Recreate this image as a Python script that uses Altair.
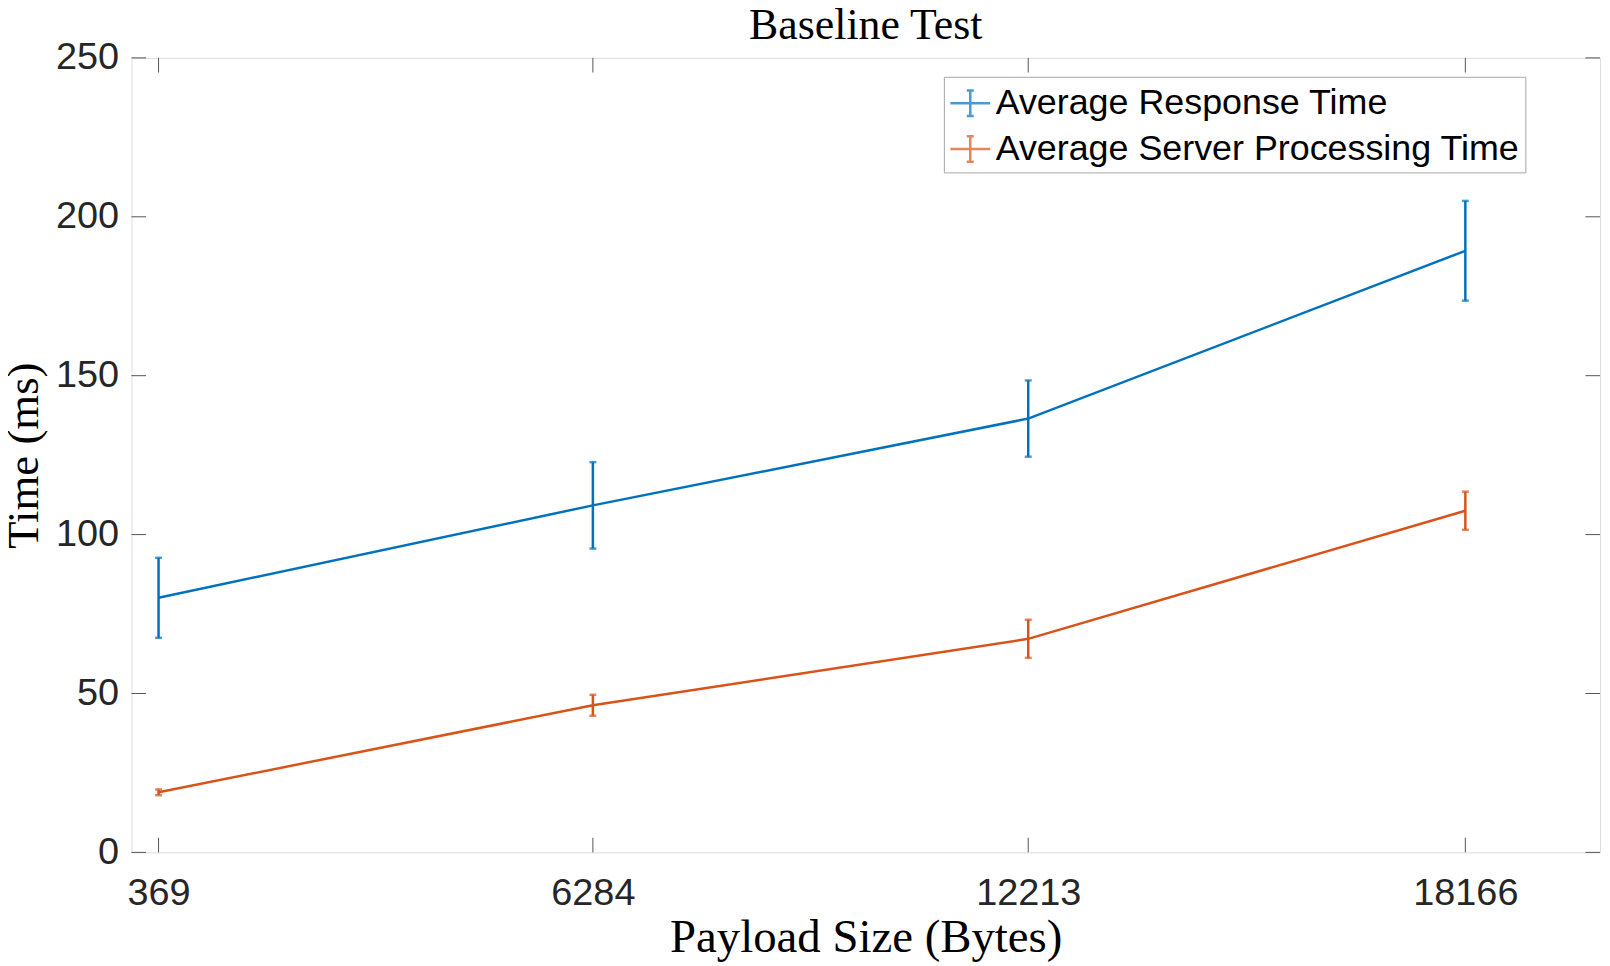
import altair as alt
import pandas as pd

# ---- data ----
sizes = [369, 6284, 12213, 18166]
series = ["Average Response Time", "Average Server Processing Time"]
colors = ["#0072BD", "#D95319"]
resp_mean = [80.1, 109.2, 136.5, 189.3]
resp_err = [12.6, 13.6, 12.0, 15.7]
proc_mean = [18.9, 46.3, 67.2, 107.5]
proc_err = [0.9, 3.3, 6.0, 6.0]
y_ticks = [0, 50, 100, 150, 200, 250]
x_domain = [0, 20000]
y_domain = [0, 250]

W, H = 1475, 798
TICK = 14.7

rows = []
for name, col, means, errs in [
    (series[0], colors[0], resp_mean, resp_err),
    (series[1], colors[1], proc_mean, proc_err),
]:
    for s, m, e in zip(sizes, means, errs):
        rows.append({"series": name, "col": col, "size": s, "mean": m,
                     "lo": m - e, "hi": m + e})
df = pd.DataFrame(rows)
yt = pd.DataFrame({"v": y_ticks})
xt = pd.DataFrame({"s": sizes})

xscale = alt.Scale(domain=x_domain, nice=False, zero=False)
yscale = alt.Scale(domain=y_domain, nice=False)

legend_path = ("M-1,0L1,0M0,-0.64L0,0.64M-0.175,-0.64L0.175,-0.64"
               "M-0.175,0.64L0.175,0.64")

x_axis = alt.Axis(
    values=sizes, format="d", title="Payload Size (Bytes)",
    labelFont="Liberation Sans", labelFontSize=38, labelColor="#262626",
    labelPadding=52, labelBaseline="alphabetic", labelFlush=False,
    ticks=False, domain=False, grid=False,
    titleFont="Liberation Serif", titleFontSize=47, titleFontWeight="normal",
    titleColor="#000000", titleBaseline="alphabetic", titleY=100,
)
y_axis = alt.Axis(
    values=y_ticks, title="Time (ms)",
    labelFont="Liberation Sans", labelFontSize=38, labelColor="#262626",
    labelPadding=13, ticks=False, domain=False, grid=False,
    titleFont="Liberation Serif", titleFontSize=45, titleFontWeight="normal",
    titleColor="#000000", titleBaseline="alphabetic", titleX=-94, titleAngle=270,
)

base = alt.Chart(df)

lines = base.mark_line(strokeWidth=2.5).encode(
    x=alt.X("size:Q", scale=xscale, axis=x_axis),
    y=alt.Y("mean:Q", scale=yscale, axis=y_axis),
    color=alt.Color(
        "series:N",
        scale=alt.Scale(domain=series, range=colors),
        legend=alt.Legend(
            title=None, orient="none", legendX=816, legendY=19,
            symbolType=legend_path, symbolSize=1600, symbolStrokeWidth=2.5,
            labelFont="Liberation Sans", labelFontSize=36, labelColor="#000000",
            labelLimit=1000, labelOffset=4, padding=5, rowPadding=6,
            strokeColor="#a6a6a6", fillColor="#ffffff",
        ),
    ),
)

err = base.mark_rule(strokeWidth=2.5).encode(
    x=alt.X("size:Q", scale=xscale, axis=x_axis),
    y=alt.Y("lo:Q", scale=yscale, axis=y_axis),
    y2="hi:Q",
    color=alt.Color("col:N", scale=None),
)
cap_lo = base.mark_tick(orient="horizontal", size=7, thickness=2.5).encode(
    x=alt.X("size:Q", scale=xscale, axis=x_axis),
    y=alt.Y("lo:Q", scale=yscale, axis=y_axis),
    color=alt.Color("col:N", scale=None),
)
cap_hi = base.mark_tick(orient="horizontal", size=7, thickness=2.5).encode(
    x=alt.X("size:Q", scale=xscale, axis=x_axis),
    y=alt.Y("hi:Q", scale=yscale, axis=y_axis),
    color=alt.Color("col:N", scale=None),
)

tick_color = "#555555"
ytick_l = alt.Chart(yt).mark_rule(color=tick_color, strokeWidth=1).encode(
    y=alt.Y("v:Q", scale=yscale, axis=y_axis), x=alt.value(0), x2=alt.value(TICK))
ytick_r = alt.Chart(yt).mark_rule(color=tick_color, strokeWidth=1).encode(
    y=alt.Y("v:Q", scale=yscale, axis=y_axis), x=alt.value(W - TICK), x2=alt.value(W))
xtick_b = alt.Chart(xt).mark_rule(color=tick_color, strokeWidth=1).encode(
    x=alt.X("s:Q", scale=xscale, axis=x_axis), y=alt.value(H), y2=alt.value(H - TICK))
xtick_t = alt.Chart(xt).mark_rule(color=tick_color, strokeWidth=1).encode(
    x=alt.X("s:Q", scale=xscale, axis=x_axis), y=alt.value(0), y2=alt.value(TICK))

chart = alt.layer(
    lines, err, cap_lo, cap_hi, ytick_l, ytick_r, xtick_b, xtick_t
).properties(
    width=W, height=H,
    title=alt.Title("Baseline Test", font="Liberation Serif", fontSize=44,
                    fontWeight="normal", color="#000000", anchor="middle",
                    frame="group", offset=0, dy=9),
    autosize=alt.AutoSizeParams(type="none"),
    padding={"left": 124, "top": 48, "right": 2, "bottom": 110},
).configure_view(
    stroke=tick_color, strokeWidth=1
).configure(background="#ffffff")

chart.save("out.html", embed_options={"renderer": "svg", "actions": False})
